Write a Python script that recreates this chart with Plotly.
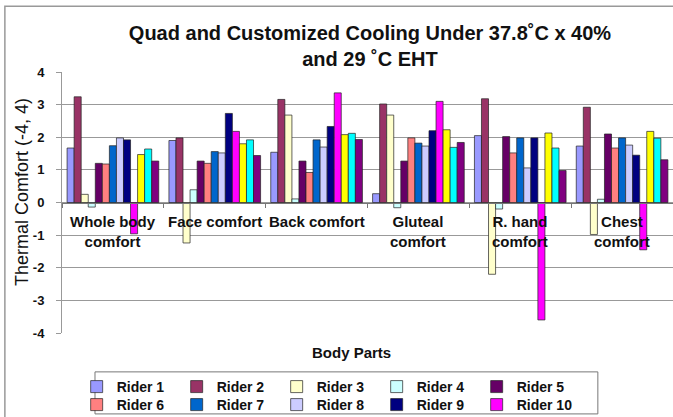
import plotly.graph_objects as go

# body parts on the x axis
categories = ["Whole body", "Face", "Back", "Gluteal", "R. hand", "Chest"]
cat_labels = ["Whole body<br>comfort", "Face comfort", "Back comfort",
              "Gluteal<br>comfort", "R. hand<br>comfort", "Chest<br>comfort"]

# y ticks use a plain hyphen like the original
y_ticks = [-4, -3, -2, -1, 0, 1, 2, 3, 4]
y_tick_text = ["-4", "-3", "-2", "-1", "0", "1", "2", "3", "4"]

# thermal comfort votes per rider
rider1 = [1.67, 1.90, 1.54, 0.27, 2.05, 1.73]
rider2 = [3.24, 1.98, 3.16, 3.02, 3.18, 2.92]
rider3 = [0.25, -1.24, 2.68, 2.68, -2.20, -0.98]
rider4 = [-0.14, 0.39, 0.11, -0.16, -0.20, 0.10]
rider5 = [1.20, 1.27, 1.27, 1.27, 2.02, 2.10]
rider6 = [1.18, 1.20, 0.92, 1.98, 1.52, 1.67]
rider7 = [1.74, 1.56, 1.92, 1.82, 1.98, 1.98]
rider8 = [1.98, 1.52, 1.70, 1.73, 1.06, 1.76]
rider9 = [1.92, 2.73, 2.33, 2.20, 1.98, 1.45]
rider10 = [-0.96, 2.18, 3.36, 3.10, -3.60, -1.45]
# three extra series drawn but not listed in the legend
extra11 = [1.47, 1.80, 2.08, 2.23, 2.13, 2.18]
extra12 = [1.64, 1.92, 2.12, 1.69, 1.67, 1.97]
extra13 = [1.27, 1.44, 1.93, 1.84, 0.98, 1.31]

series = [
    ("Rider 1", rider1, "#9999FF", "legend"),
    ("Rider 2", rider2, "#993366", "legend"),
    ("Rider 3", rider3, "#FFFFCC", "legend"),
    ("Rider 4", rider4, "#CCFFFF", "legend"),
    ("Rider 5", rider5, "#660066", "legend"),
    ("Rider 6", rider6, "#FF8080", "legend2"),
    ("Rider 7", rider7, "#0066CC", "legend2"),
    ("Rider 8", rider8, "#CCCCFF", "legend2"),
    ("Rider 9", rider9, "#000080", "legend2"),
    ("Rider 10", rider10, "#FF00FF", "legend2"),
    ("Series 11", extra11, "#FFFF00", None),
    ("Series 12", extra12, "#00FFFF", None),
    ("Series 13", extra13, "#800080", None),
]

FONT = "Arial, Liberation Sans, sans-serif"

fig = go.Figure()
for name, vals, color, leg in series:
    fig.add_trace(go.Bar(
        x=categories, y=vals, name=name,
        marker=dict(color=color, line=dict(color="#222222", width=0.7)),
        showlegend=leg is not None,
        legend=leg if leg else "legend",
    ))

# category labels sit just under the zero line, like the original
for cat, lab in zip(categories, cat_labels):
    fig.add_annotation(
        x=cat, y=0, xref="x", yref="y", text=lab, showarrow=False,
        yanchor="top", yshift=-8, align="center",
        font=dict(family=FONT, size=15, color="#111111", weight="bold"),
    )

# axis titles
fig.add_annotation(
    x=(22 - 62) / 611, y=0.54, xref="paper", yref="paper", text="Thermal Comfort (-4, 4)",
    xanchor="center", yanchor="middle", textangle=-90, showarrow=False,
    font=dict(family=FONT, size=18, color="#111111"),
)
fig.add_annotation(
    x=(351 - 62) / 611, y=(333 - 352) / 261, xref="paper", yref="paper",
    text="Body Parts", xanchor="center", yanchor="middle", showarrow=False,
    font=dict(family=FONT, size=15, color="#111111", weight="bold"),
)

# outer chart frame and legend box
fig.add_shape(type="rect", xref="paper", yref="paper",
              x0=-0.0935, x1=1.05, y0=-0.4, y1=1.252,
              line=dict(color="#999999", width=1.5), layer="below")
fig.add_shape(type="rect", xref="paper", yref="paper",
              x0=0.054, x1=0.877, y0=-0.310, y1=-0.149,
              line=dict(color="#777777", width=1), layer="below")

legend_common = dict(
    orientation="h", xanchor="left", yanchor="middle",
    entrywidth=55, entrywidthmode="pixels", itemwidth=30,
    bgcolor="rgba(0,0,0,0)", borderwidth=0,
    font=dict(family=FONT, size=14, color="#111111", weight="bold"),
    tracegroupgap=0,
)

fig.update_layout(
    width=673, height=417,
    margin=dict(l=62, r=0, t=72, b=84, autoexpand=False),
    paper_bgcolor="white", plot_bgcolor="white",
    barmode="group", bargap=0.1, bargroupgap=0,
    title=dict(
        text="Quad and Customized Cooling Under 37.8˚C x 40%<br>and 29 ˚C EHT",
        x=370 / 673, xanchor="center", y=0.905, yanchor="top",
        font=dict(family=FONT, size=20, color="#111111", weight="bold"),
    ),
    xaxis=dict(
        type="category", anchor="free", position=0.5,
        showline=True, linecolor="#777777", linewidth=1,
        ticks="outside", tickson="boundaries", ticklen=4, tickcolor="#777777",
        showticklabels=False, showgrid=False, zeroline=False,
    ),
    yaxis=dict(
        range=[-4, 4], tickvals=y_ticks, ticktext=y_tick_text,
        showgrid=True, gridcolor="#999999", gridwidth=1,
        zeroline=False, showline=True, linecolor="#999999",
        ticks="outside", ticklen=5, tickcolor="#999999", ticklabelstandoff=9,
        tickfont=dict(family=FONT, size=13, color="#111111", weight="bold"),
    ),
    legend=dict(x=0.024, y=(333 - 387) / 261, **legend_common),
    legend2=dict(x=0.024, y=(333 - 405) / 261, **legend_common),
)

# the page's default body margin would shift the chart by 8px
fig.write_html("out.html", config={"displayModeBar": False},
               post_script="document.body.style.margin = '0';")
